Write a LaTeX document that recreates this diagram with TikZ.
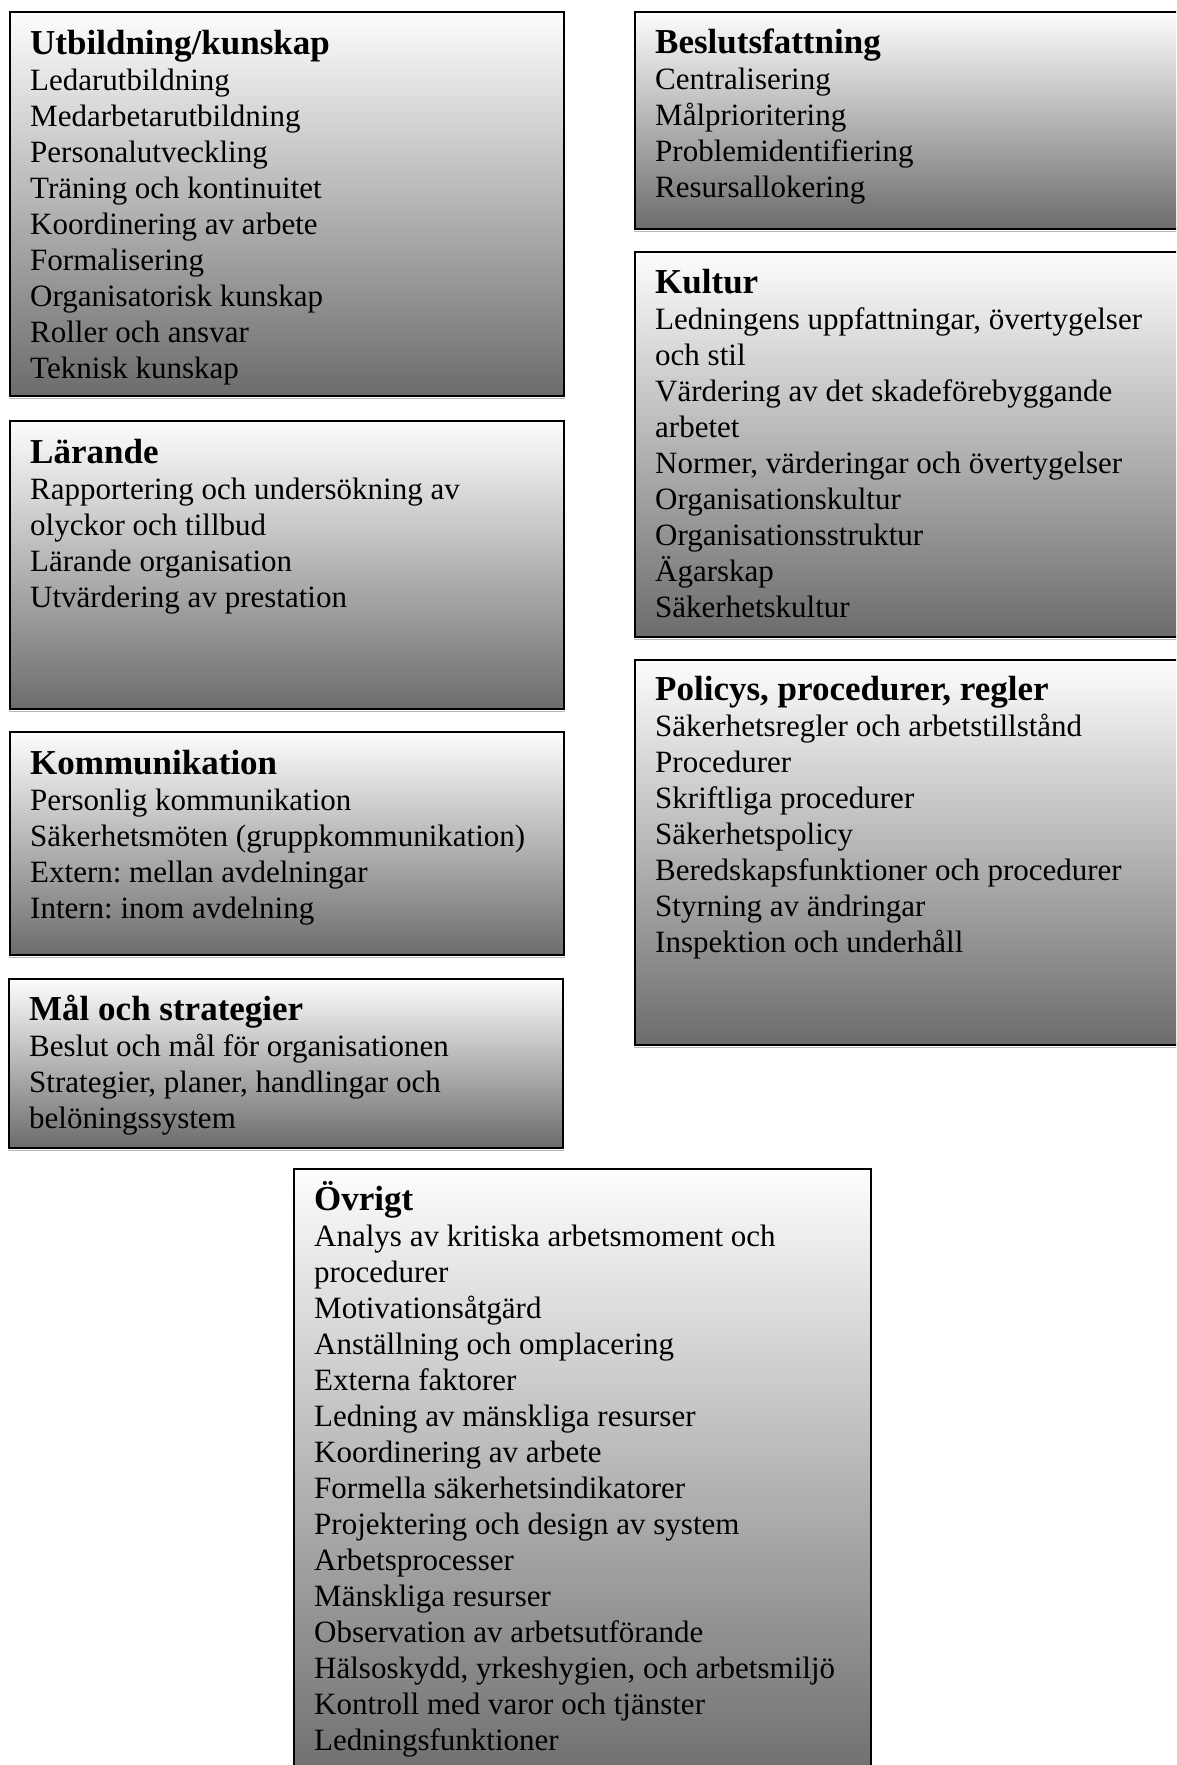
\documentclass[tikz,border=0pt]{standalone}
\usepackage{fontspec}
\setmainfont{Liberation Serif}
\frenchspacing
\definecolor{gtop}{HTML}{FDFDFD}
\definecolor{gmid}{HTML}{C4C4C4}
\definecolor{gbot}{HTML}{6C6C6C}
\definecolor{shadowgray}{HTML}{B8B8B8}
\begin{document}
\begin{tikzpicture}[x=1pt,y=-1pt,
  panel/.style={draw=black, line width=1.6pt, top color=gtop, middle color=gmid,
    bottom color=gbot, inner sep=0pt, anchor=north west},
  shade line/.style={draw=shadowgray, line width=1.4pt},
  label text/.style={anchor=north west, inner sep=0pt, align=left,
    font=\fontsize{31}{36}\selectfont\frenchspacing},
]
\useasboundingbox (0,0) rectangle (1176,1765);
\clip (0,0) rectangle (1176,1765);

% panels: width x height, placed by their top-left corner
\node[panel, minimum width=554pt, minimum height=384pt] (utb) at (9,11) {};
\node[panel, minimum width=554pt, minimum height=288pt] (lar) at (9,420) {};
\node[panel, minimum width=554pt, minimum height=223pt] (kom) at (9,731) {};
\node[panel, minimum width=554pt, minimum height=169pt] (mal) at (8,978) {};
\node[panel, minimum width=570pt, minimum height=217pt] (bes) at (634,11) {};
\node[panel, minimum width=570pt, minimum height=385pt] (kul) at (634,251) {};
\node[panel, minimum width=570pt, minimum height=385pt] (pol) at (634,659) {};
\node[panel, minimum width=577pt, minimum height=620pt] (ovr) at (293,1168) {};

% faint shadow under the lower edges
\foreach \b in {utb,lar,kom,mal,bes,kul,pol}
  \draw[shade line] ([yshift=-2pt]\b.south west) -- ([yshift=-2pt]\b.south east);

\newcommand{\hd}[1]{\rule{0pt}{32pt}{\fontsize{35}{36}\selectfont\bfseries #1}}

\node[label text] (utbT) at ([shift={(21,11)}]utb.north west) {\hd{Utbildning/kunskap}\\
Ledarutbildning\\
Medarbetarutbildning\\
Personalutveckling\\
Träning och kontinuitet\\
Koordinering av arbete\\
Formalisering\\
Organisatorisk kunskap\\
Roller och ansvar\\
Teknisk kunskap};

\node[label text] (larT) at ([shift={(21,11)}]lar.north west) {\hd{Lärande}\\
Rapportering och undersökning av\\
olyckor och tillbud\\
Lärande organisation\\
Utvärdering av prestation};

\node[label text] (komT) at ([shift={(21,11)}]kom.north west) {\hd{Kommunikation}\\
Personlig kommunikation\\
Säkerhetsmöten (gruppkommunikation)\\
Extern: mellan avdelningar\\
Intern: inom avdelning};

\node[label text] (malT) at ([shift={(21,10)}]mal.north west) {\hd{Mål och strategier}\\
Beslut och mål för organisationen\\
Strategier, planer, handlingar och\\
belöningssystem};

\node[label text] (besT) at ([shift={(21,10)}]bes.north west) {\hd{Beslutsfattning}\\
Centralisering\\
Målprioritering\\
Problemidentifiering\\
Resursallokering};

\node[label text] (kulT) at ([shift={(21,10)}]kul.north west) {\hd{Kultur}\\
Ledningens uppfattningar, övertygelser\\
och stil\\
Värdering av det skadeförebyggande\\
arbetet\\
Normer, värderingar och övertygelser\\
Organisationskultur\\
Organisationsstruktur\\
Ägarskap\\
Säkerhetskultur};

\node[label text] (polT) at ([shift={(21,9)}]pol.north west) {\hd{Policys, procedurer, regler}\\
Säkerhetsregler och arbetstillstånd\\
Procedurer\\
Skriftliga procedurer\\
Säkerhetspolicy\\
Beredskapsfunktioner och procedurer\\
Styrning av ändringar\\
Inspektion och underhåll};

\node[label text] (ovrT) at ([shift={(21,10)}]ovr.north west) {\hd{Övrigt}\\
Analys av kritiska arbetsmoment och\\
procedurer\\
Motivationsåtgärd\\
Anställning och omplacering\\
Externa faktorer\\
Ledning av mänskliga resurser\\
Koordinering av arbete\\
Formella säkerhetsindikatorer\\
Projektering och design av system\\
Arbetsprocesser\\
Mänskliga resurser\\
Observation av arbetsutförande\\
Hälsoskydd, yrkeshygien, och arbetsmiljö\\
Kontroll med varor och tjänster\\
Ledningsfunktioner};
\end{tikzpicture}
\end{document}
